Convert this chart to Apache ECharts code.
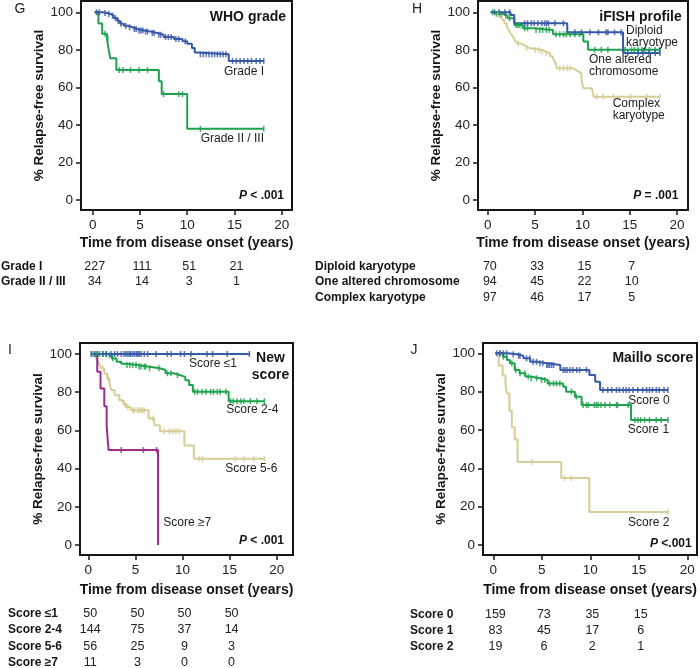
<!DOCTYPE html>
<html><head><meta charset="utf-8">
<script src="https://cdn.jsdelivr.net/npm/echarts@6/dist/echarts.min.js"></script>
<style>html,body{margin:0;padding:0;background:#fff}#c{width:700px;height:668px}</style>
</head><body><div id="c"></div>
<script>
// ---------- shared ticks ----------
const xTicks = [0, 5, 10, 15, 20];
const yTicks = [0, 20, 40, 60, 80, 100];
const riskTimes = [0, 5, 10, 15];

// ---------- Panel G : WHO grade ----------
const gGrade1Steps = [[0.2,100],[1.0,99.6],[1.5,99.1],[1.9,98.2],[2.2,96.9],[2.6,95.4],[2.9,93.9],[3.3,92.8],[3.7,92.0],[4.2,91.1],[4.7,90.3],[5.4,89.7],[6.1,89.0],[6.8,88.0],[7.5,86.8],[8.6,85.7],[9.5,84.5],[10.0,83.2],[10.5,80.9],[10.8,78.6],[11.1,77.6],[14.4,74.1],[18.1,74.1]];
const gGrade1Censor = [0.4,0.7,1.3,1.7,2.1,2.4,2.7,3.0,3.5,3.9,4.4,4.6,4.9,5.1,5.3,5.6,5.8,6.3,6.5,7.0,7.2,7.7,8.0,8.3,8.8,9.1,9.8,11.4,11.7,12.0,12.3,12.6,12.9,13.2,13.5,13.8,14.1,14.8,15.2,15.6,16.0,16.4,16.8,17.3,17.7,18.1];
const gGrade23Steps = [[0.2,100],[0.6,94],[1.0,88.5],[1.5,86],[1.7,79.8],[1.85,75.5],[2.5,69.3],[7.0,63.3],[7.3,56.4],[10.0,37.9],[18.1,37.9]];
const gGrade23Censor = [1.3,1.6,2.8,3.2,4.0,4.9,5.8,7.5,9.1,9.5,11.4,18.1];
const gRiskLabels = ['Grade I', 'Grade II / III'];
const gRiskValues = [[227,111,51,21],[34,14,3,1]];

// ---------- Panel H : iFISH profile ----------
const hDiploidSteps = [[0.3,100],[2.4,98.5],[2.8,94.1],[8.4,89.3],[14.3,78.3],[18.2,78.3]];
const hDiploidCensor = [0.7,1.2,1.8,2.3,3.9,4.2,4.6,4.9,5.3,5.7,6.0,6.2,6.4,7.1,8.0,9.2,9.9,10.8,11.7,12.5,12.7,13.4,14.1,14.8,15.9,16.4,17.0,17.7,18.2];
const hOneSteps = [[0.3,100],[0.8,99.2],[1.5,98.2],[2.1,96.8],[2.8,93.2],[3.7,91.5],[4.8,90.6],[6.9,88.3],[10.1,84.4],[10.6,80.0],[18.2,80.0]];
const hOneCensor = [0.5,0.9,1.4,1.9,2.3,3.0,3.2,3.4,3.9,4.2,5.1,5.5,5.8,6.2,6.5,7.2,7.6,8.0,8.3,8.7,9.2,9.7,11.3,12.0,12.7,14.5,15.2,15.5,15.9,16.3,16.6,17.1,17.7,18.2];
const hComplexSteps = [[0.3,100],[0.7,99.3],[0.95,98.6],[1.2,97.3],[1.5,95.9],[1.75,94.1],[2.0,92.3],[2.2,90.5],[2.4,88.8],[2.6,87.4],[2.75,86.1],[2.9,84.8],[3.1,83.5],[3.4,82.6],[3.8,81.7],[4.1,80.8],[4.5,79.9],[5.7,79.0],[6.1,78.2],[6.6,76.4],[6.9,75.0],[7.1,73.7],[7.3,70.2],[9.0,69.3],[9.3,68.4],[9.6,67.5],[9.9,63.9],[10.1,59.5],[11.0,58.6],[11.2,55.0],[18.2,55.0]];
const hComplexCensor = [1.1,3.2,4.1,5.0,5.4,5.7,6.2,7.6,8.0,8.4,8.7,11.5,12.2,13.3,15.1,16.8,18.2];
const hRiskLabels = ['Diploid karyotype', 'One altered chromosome', 'Complex karyotype'];
const hRiskValues = [[70,33,15,7],[94,45,22,10],[97,46,17,5]];

// ---------- Panel I : New score ----------
const iS1Steps = [[0.3,100],[17.1,100]];
const iS1Censor = [0.3,0.7,1.0,1.55,1.9,2.4,2.8,3.1,3.5,3.8,4.0,4.2,4.4,4.5,4.7,4.9,5.1,5.25,5.4,5.6,5.95,6.3,7.2,8.4,8.8,9.8,10.2,10.9,12.6,13.2,14.75,17.1];
const iS24Steps = [[0.5,100],[2.0,99.3],[2.5,97.7],[3.0,96.0],[3.5,94.9],[4.0,94.2],[5.2,93.4],[6.3,92.5],[7.6,91.6],[8.2,89.9],[9.0,89.0],[9.7,88.0],[10.3,86.3],[10.7,83.8],[11.1,80.2],[14.9,75.3],[18.7,75.3]];
const iS24Censor = [0.5,0.85,1.2,1.55,1.9,2.25,2.6,4.1,4.4,4.7,5.07,5.4,5.6,5.95,6.1,6.5,7.5,8.4,8.77,9.47,11.3,11.6,12.1,12.5,13.0,13.3,13.7,14.0,14.6,15.1,15.4,15.8,16.2,16.5,17.2,17.9,18.7];
const iS56Steps = [[0.6,100],[0.8,98.2],[1.0,96.8],[1.2,94.2],[1.4,92.5],[1.7,89.8],[2.0,87.2],[2.25,84.6],[2.45,81.1],[2.8,78.4],[3.3,75.8],[3.7,74.0],[4.0,72.3],[4.5,70.5],[6.4,66.2],[7.0,62.7],[7.6,59.5],[10.2,52.1],[11.2,45.1],[18.7,45.1]];
const iS56Censor = [1.55,2.1,3.84,4.19,4.72,4.89,5.25,5.42,5.6,5.77,5.95,6.83,8.06,8.6,8.94,9.3,9.65,11.76,12.1,15.6,16.5,17.6,18.7];
const iS7Steps = [[0.6,100],[0.95,90.7],[1.3,81.9],[1.7,72.6],[1.95,62.3],[2.15,49.7],[7.4,0]];
const iS7Censor = [3.5,5.85,7.25];
const iRiskLabels = ['Score \u22641', 'Score 2-4', 'Score 5-6', 'Score \u22657'];
const iRiskValues = [[50,50,50,50],[144,75,37,14],[56,25,9,3],[11,3,0,0]];

// ---------- Panel J : Maillo score ----------
const jS0Steps = [[0.2,100],[1.5,99.5],[2.4,98.8],[3.1,97.4],[3.8,95.6],[4.5,94.8],[5.5,93.9],[6.9,91.3],[9.9,88.7],[10.5,85.2],[11.0,80.9],[18.0,80.9]];
const jS0Censor = [0.34,0.68,1.03,1.37,2.05,2.6,2.74,3.42,3.77,4.1,4.45,4.8,5.1,5.5,5.65,5.8,6.0,6.2,7.2,7.4,7.6,7.9,8.2,8.6,8.9,9.6,11.3,11.8,12.2,12.7,13.0,13.4,13.7,14.0,14.4,14.9,15.4,15.8,16.1,16.4,16.8,17.1,17.6,18.0];
const jS1Steps = [[0.2,100],[1.0,98.2],[1.4,96.5],[1.7,94.8],[2.2,91.3],[2.7,89.6],[3.3,87.9],[3.8,87.0],[4.8,86.1],[5.6,84.3],[7.2,82.6],[7.5,80.0],[8.4,77.4],[9.1,73.0],[14.2,65.2],[18.0,65.2]];
const jS1Censor = [0.68,1.03,1.9,2.3,2.74,3.25,3.6,3.9,4.45,4.97,5.3,5.8,6.2,6.5,6.85,8.05,8.56,9.25,9.6,9.8,10.4,10.6,10.8,11.1,11.5,12.0,12.7,12.8,13.9,14.6,14.9,15.2,15.6,16.1,16.8,17.3,18.0];
const jS2Steps = [[0.2,100],[0.55,93.7],[0.95,88.5],[1.25,84.0],[1.4,79.0],[1.65,70.0],[1.9,61.5],[2.2,55.0],[2.5,43.3],[7.0,35.0],[9.9,17.2],[18.0,17.2]];
const jS2Censor = [3.95,7.35,8.0,18.0];
const jRiskLabels = ['Score 0', 'Score 1', 'Score 2'];
const jRiskValues = [[159,73,35,15],[83,45,17,6],[19,6,2,1]];

// ---------- styling ----------
const FONT = '"Liberation Sans", Arial, Helvetica, sans-serif';
const BLUE = '#3858a8', GREEN = '#1ea24e', KHAKI = '#d7cd96', PURPLE = '#9a2d8e';
const INK = '#151515';

function survAt(steps, t) {
  let s = steps[0][1];
  for (const p of steps) { if (p[0] <= t + 1e-9) s = p[1]; else break; }
  return s;
}

const panels = [
  { letter:'G', letterPos:[20,9], grid:{left:81,top:1,width:211,height:209}, xr:[-1.24,21.09], yr:[-5.33,106], yGap:32, xGap:26,
    curves:[{s:gGrade23Steps,c:gGrade23Censor,col:GREEN},{s:gGrade1Steps,c:gGrade1Censor,col:BLUE}],
    risk:{labels:gRiskLabels, values:gRiskValues, lx:1, ys:[266.7,281.7]} },
  { letter:'H', letterPos:[417,9], grid:{left:478,top:1,width:210,height:209}, xr:[-1.04,21.17], yr:[-5.33,106], yGap:32, xGap:26,
    curves:[{s:hComplexSteps,c:hComplexCensor,col:KHAKI},{s:hOneSteps,c:hOneCensor,col:GREEN},{s:hDiploidSteps,c:hDiploidCensor,col:BLUE}],
    risk:{labels:hRiskLabels, values:hRiskValues, lx:315, ys:[266.7,282,297.5]} },
  { letter:'I', letterPos:[10,350], grid:{left:80,top:343,width:213,height:212}, xr:[-0.88,21.73], yr:[-5.24,105.76], yGap:31, xGap:28,
    curves:[{s:iS56Steps,c:iS56Censor,col:KHAKI},{s:iS24Steps,c:iS24Censor,col:GREEN},{s:iS7Steps,c:iS7Censor,col:PURPLE},{s:iS1Steps,c:iS1Censor,col:BLUE}],
    risk:{labels:iRiskLabels, values:iRiskValues, lx:8, ys:[613.3,630,646.5,662.7]} },
  { letter:'J', letterPos:[414,350], grid:{left:483,top:343,width:214,height:212}, xr:[-1.07,21.0], yr:[-5.2,105.4], yGap:35, xGap:28,
    curves:[{s:jS2Steps,c:jS2Censor,col:KHAKI},{s:jS1Steps,c:jS1Censor,col:GREEN},{s:jS0Steps,c:jS0Censor,col:BLUE}],
    risk:{labels:jRiskLabels, values:jRiskValues, lx:410, ys:[615,630.7,646.7]} }
];

const grids = [], xAxes = [], yAxes = [], series = [];
panels.forEach((p, i) => {
  grids.push(Object.assign({show:true, borderColor:INK, borderWidth:2, backgroundColor:'transparent'}, p.grid));
  xAxes.push({
    type:'value', gridIndex:i, min:p.xr[0], max:p.xr[1],
    axisLine:{show:true, onZero:false, lineStyle:{color:INK, width:2}},
    axisTick:{show:true, length:5, inside:false, customValues:xTicks, lineStyle:{color:INK, width:1.5}},
    axisLabel:{customValues:xTicks, margin:8, fontSize:13.5, color:'#222', fontFamily:FONT},
    splitLine:{show:false},
    name:'Time from disease onset (years)', nameLocation:'middle', nameGap:p.xGap,
    nameTextStyle:{fontSize:14, fontWeight:'bold', color:INK, fontFamily:FONT}
  });
  yAxes.push({
    type:'value', gridIndex:i, min:p.yr[0], max:p.yr[1],
    axisLine:{show:true, onZero:false, lineStyle:{color:INK, width:2}},
    axisTick:{show:true, length:5, inside:false, customValues:yTicks, lineStyle:{color:INK, width:1.5}},
    axisLabel:{customValues:yTicks, margin:8, fontSize:13.5, color:'#222', fontFamily:FONT},
    splitLine:{show:false},
    name:'% Relapse-free survival', nameLocation:'middle', nameGap:p.yGap, nameRotate:90,
    nameTextStyle:{fontSize:13.5, fontWeight:'bold', color:INK, fontFamily:FONT}
  });
  p.curves.forEach(cv => {
    series.push({type:'line', xAxisIndex:i, yAxisIndex:i, step:'end', data:cv.s, showSymbol:false, symbol:'none',
      lineStyle:{color:cv.col, width:2}, silent:true, z:3});
    series.push({type:'scatter', xAxisIndex:i, yAxisIndex:i, data:cv.c.map(t => [t, survAt(cv.s, t)]),
      symbol:'rect', symbolSize:[1.6,6], itemStyle:{color:cv.col}, silent:true, z:4});
  });
});

const chart = echarts.init(document.getElementById('c'), null, {renderer:'canvas'});
chart.setOption({animation:false, backgroundColor:'#fff', grid:grids, xAxis:xAxes, yAxis:yAxes, series:series});

// ---------- text annotations ----------
const g = [];
function txt(text, x, y, align, size, weight, color, extra) {
  g.push({type:'text', x:x, y:y, silent:true, z:10,
    style:Object.assign({text:text, align:align, verticalAlign:'middle', fontSize:size, fontWeight:weight||'normal',
      fill:color||INK, fontFamily:FONT}, extra||{})});
}
function pval(text, x, y) {
  g.push({type:'text', x:x, y:y, silent:true, z:10,
    style:{text:'{p|P}{b|' + text + '}', align:'right', verticalAlign:'middle', fontFamily:FONT,
      rich:{p:{fontSize:12, fontWeight:'bold', fontStyle:'italic', fill:INK, fontFamily:FONT},
            b:{fontSize:12, fontWeight:'bold', fill:INK, fontFamily:FONT}}}});
}
panels.forEach(p => txt(p.letter, p.letterPos[0], p.letterPos[1], 'center', 14, 'normal', '#222'));

// G
txt('WHO grade', 286, 16.7, 'right', 14, 'bold');
txt('Grade I', 264, 71.7, 'right', 12, 'normal', '#222');
txt('Grade II / III', 264, 138.3, 'right', 12, 'normal', '#222');
pval(' < .001', 284, 196);
// H
txt('iFISH profile', 681.7, 16.7, 'right', 14, 'bold');
txt('Diploid\nkaryotype', 626, 36.7, 'left', 12, 'normal', '#222', {lineHeight:12.3});
txt('One altered\nchromosome', 589, 65.8, 'left', 12, 'normal', '#222', {lineHeight:12.3});
txt('Complex\nkaryotype', 612.7, 109.7, 'left', 12, 'normal', '#222', {lineHeight:12.7});
pval(' = .001', 678.3, 196);
// I
txt('New\nscore', 270.5, 366.7, 'center', 14, 'bold', INK, {lineHeight:16.7});
txt('Score \u22641', 189, 363.3, 'left', 12, 'normal', '#222');
txt('Score 2-4', 278.3, 410, 'right', 12, 'normal', '#222');
txt('Score 5-6', 277.3, 468.3, 'right', 12, 'normal', '#222');
txt('Score \u22657', 163.3, 522.7, 'left', 12, 'normal', '#222');
pval(' < .001', 284, 541);
// J
txt('Maillo score', 693.3, 357.7, 'right', 14, 'bold');
txt('Score 0', 628.3, 400.7, 'left', 12, 'normal', '#222');
txt('Score 1', 627.7, 430, 'left', 12, 'normal', '#222');
txt('Score 2', 628, 522.7, 'left', 12, 'normal', '#222');
pval(' <.001', 691.7, 544);

// risk tables, values aligned to the x axis positions
panels.forEach((p, i) => {
  p.risk.labels.forEach((lab, r) => {
    const y = p.risk.ys[r];
    txt(lab, p.risk.lx, y, 'left', 12, 'bold', INK);
    riskTimes.forEach((t, k) => {
      const px = chart.convertToPixel({xAxisIndex:i}, t);
      txt(String(p.risk.values[r][k]), px + 2, y, 'center', 12.5, 'normal', '#222');
    });
  });
});
chart.setOption({graphic:g});
</script>
</body></html>
